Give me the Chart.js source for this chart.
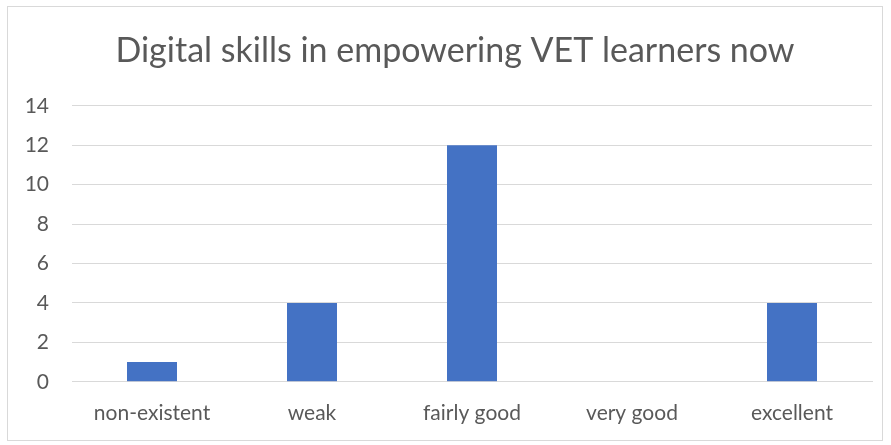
<!DOCTYPE html>
<html>
<head>
<meta charset="utf-8">
<script src="https://cdn.jsdelivr.net/npm/chart.js@4/dist/chart.umd.min.js"></script>
<style>
  html, body { margin: 0; padding: 0; background: #fff; }
  #frame {
    position: absolute; left: 7px; top: 6px; width: 876px; height: 435px;
    border: 1px solid #d9d9d9; box-sizing: border-box;
  }
  #chartBox { position: absolute; left: 0; top: 0; width: 874px; height: 433px; }
</style>
</head>
<body>
<div id="frame"><div id="chartBox"><canvas id="skillsChart"></canvas></div></div>
<script>
// ---------- DATA ----------
const categories = ['non-existent', 'weak', 'fairly good', 'very good', 'excellent'];
const learnerCounts = [1, 4, 12, 0, 4];
const yTicks = [0, 2, 4, 6, 8, 10, 12, 14];

const FONT = 'Lato, "Open Sans", sans-serif';
const TEXT_GREY = '#595959';

// nudge the title box right so it sits centred like the original
const titleShift = {
    id: 'titleShift',
    afterLayout(chart) {
        if (chart.titleBlock) chart.titleBlock.left += 30;
    }
};

const ctx = document.getElementById('skillsChart').getContext('2d');

new Chart(ctx, {
    type: 'bar',
    data: {
        labels: categories,
        datasets: [{
            label: 'Digital skills',
            data: learnerCounts,
            backgroundColor: '#4472c4',
            borderWidth: 0,
            barPercentage: 0.3125,
            categoryPercentage: 1
        }]
    },
    plugins: [titleShift],
    options: {
        responsive: true,
        maintainAspectRatio: false,
        animation: false,
        layout: { padding: { left: 0, right: 10, top: 8, bottom: 3 } },
        plugins: {
            legend: { display: false },
            tooltip: { enabled: false },
            title: {
                display: true,
                text: 'Digital skills in empowering VET learners now',
                color: TEXT_GREY,
                font: { family: FONT, size: 34, weight: 'normal' },
                padding: { top: 16, bottom: 34 }
            }
        },
        scales: {
            x: {
                grid: { display: false },
                border: { color: '#d9d9d9', width: 1 },
                ticks: {
                    color: TEXT_GREY,
                    font: { family: FONT, size: 21 },
                    padding: 11
                }
            },
            y: {
                min: 0,
                max: 14,
                afterBuildTicks: axis => { axis.ticks = yTicks.map(v => ({ value: v })); },
                afterFit: axis => { axis.width = 64; },
                grid: { color: '#d9d9d9', lineWidth: 1, drawTicks: false },
                border: { display: false },
                ticks: {
                    color: TEXT_GREY,
                    font: { family: FONT, size: 21 },
                    padding: 23
                }
            }
        }
    }
});
</script>
</body>
</html>
